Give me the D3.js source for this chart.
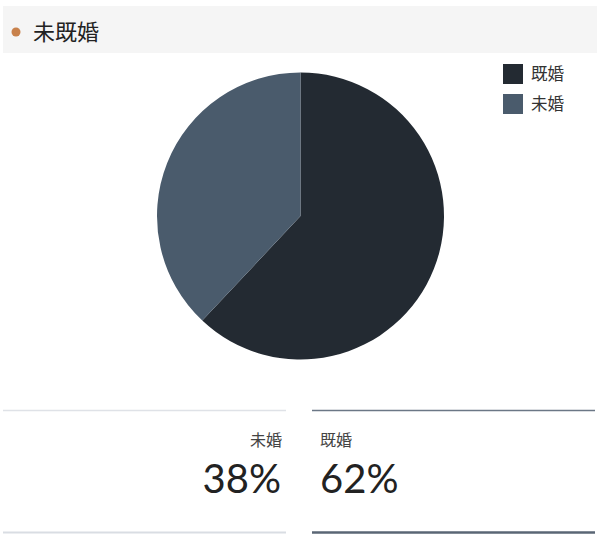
<!DOCTYPE html>
<html><head><meta charset="utf-8">
<script src="https://cdn.jsdelivr.net/npm/d3@7"></script>
<style>body{margin:0;background:#fff;}svg{display:block;}</style>
</head><body>
<svg id="c" width="600" height="545"></svg>
<script>
const title = "未既婚";
const categories = ["既婚", "未婚"];
const values = [62, 38];
const colors = ["#232a32", "#4a5b6c"];
// bottom summary order
const summaryOrder = ["未婚", "既婚"];

const svg = d3.select("#c");
const cjk = "'Noto Sans CJK JP','Noto Sans CJK SC',sans-serif";

// header
svg.append("rect").attr("x",3).attr("y",6).attr("width",594).attr("height",47).attr("fill","#f5f5f5");
svg.append("circle").attr("cx",16).attr("cy",32).attr("r",4.5).attr("fill","#c8814b");
svg.append("text").attr("x",33).attr("y",40).attr("font-family",cjk).attr("font-size",22)
  .attr("fill","#222").text(title);

// pie
const color = d3.scaleOrdinal().domain(categories).range(colors);
const pie = d3.pie().sort(null).value(d=>d.v);
const data = categories.map((c,i)=>({c, v: values[i]}));
const arc = d3.arc().innerRadius(0).outerRadius(143.5);
const g = svg.append("g").attr("transform","translate(300.5,216)");
g.selectAll("path").data(pie(data)).join("path")
  .attr("d",arc).attr("fill",d=>color(d.data.c));

// legend
const lg = svg.append("g").attr("transform","translate(503,64)");
const li = lg.selectAll("g").data(categories).join("g").attr("transform",(d,i)=>`translate(0,${i*30})`);
li.append("rect").attr("width",20).attr("height",20).attr("fill",d=>color(d));
li.append("text").attr("x",28).attr("y",16).attr("font-family",cjk).attr("font-size",16.5)
  .attr("fill","#333").text(d=>d);

// summary panels
const total = d3.sum(values);
const fmt = d3.format(".0%");
const panels = [
  {x0:3, x1:286, anchor:"end", tx:282, top:"#dfe2e7", topW:1.5, bot:"#d9dde3", botW:2},
  {x0:312, x1:595, anchor:"start", tx:320, top:"#6b7786", topW:1.5, bot:"#5a6675", botW:2.5}
];
summaryOrder.forEach((c,i)=>{
  const p = panels[i];
  const v = values[categories.indexOf(c)];
  svg.append("line").attr("x1",p.x0).attr("x2",p.x1).attr("y1",410.5).attr("y2",410.5)
    .attr("stroke",p.top).attr("stroke-width",p.topW);
  svg.append("line").attr("x1",p.x0).attr("x2",p.x1).attr("y1",532.5).attr("y2",532.5)
    .attr("stroke",p.bot).attr("stroke-width",p.botW);
  svg.append("text").attr("x",p.tx).attr("y",446).attr("text-anchor",p.anchor)
    .attr("font-family",cjk).attr("font-size",16).attr("fill","#444").text(c);
  svg.append("text").attr("x",p.anchor==="end"?p.tx-1:p.tx).attr("y",493).attr("text-anchor",p.anchor)
    .attr("font-family","Lato, sans-serif").attr("font-weight",400).attr("font-size",40)
    .attr("fill","#222").text(fmt(v/total));
});
</script>
</body></html>
